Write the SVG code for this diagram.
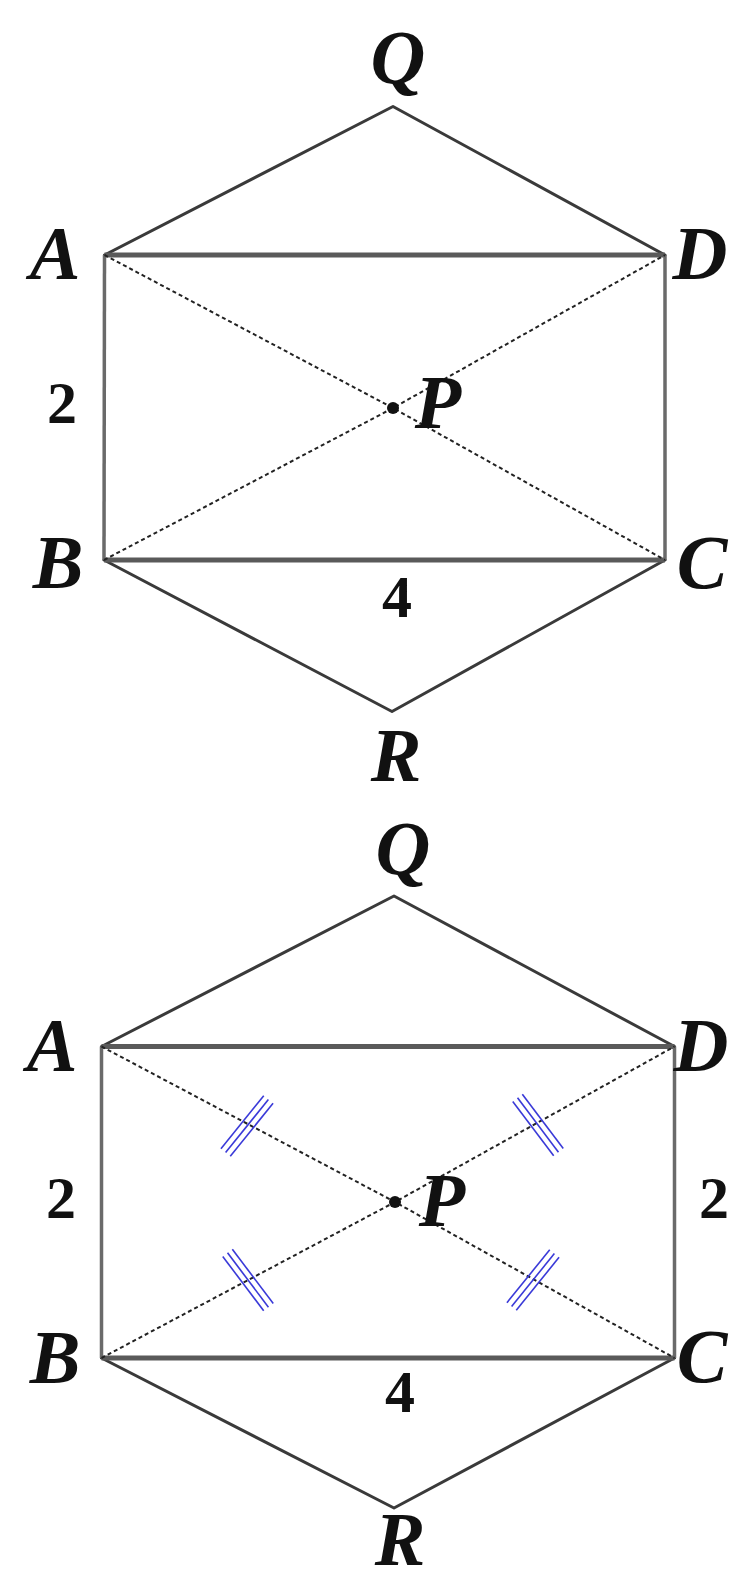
<svg xmlns="http://www.w3.org/2000/svg" xmlns:xlink="http://www.w3.org/1999/xlink" width="729" height="1582" viewBox="0 0 729 1582">
<style>
.bg{fill:#ffffff}
.side{stroke:#3a3a3a;stroke-width:3;fill:none;stroke-linecap:round;stroke-linejoin:round}
.hor{stroke:#5a5a5a;stroke-width:5;fill:none}
.ver{stroke:#6a6a6a;stroke-width:3.5;fill:none}
.diag{stroke:#222;stroke-width:2;fill:none;stroke-dasharray:4 3}
.tk{stroke:#3a3ad8;stroke-width:1.6}
.lbl{font-family:"Liberation Serif","Times New Roman",serif;font-weight:bold;font-style:italic;font-size:76px;fill:#111;text-anchor:middle}
.num{font-family:"Liberation Serif","Times New Roman",serif;font-weight:bold;font-size:60px;fill:#111;text-anchor:middle}
</style>
<defs>
<g id="tick">
<line class="tk" x1="-6" y1="-34" x2="-6" y2="34"/>
<line class="tk" x1="0" y1="-34" x2="0" y2="34"/>
<line class="tk" x1="6" y1="-34" x2="6" y2="34"/>
</g>
</defs>
<rect class="bg" x="0" y="0" width="729" height="1582"/>

<g id="connectors">
<!-- top figure -->
<polyline class="side" points="104.5,255 393,106.5 665,255"/>
<polyline class="side" points="104,560 392,711.5 665,560"/>
<line class="hor" x1="104.5" y1="255" x2="665" y2="255"/>
<line class="hor" x1="104" y1="560" x2="665" y2="560"/>
<line class="ver" x1="104.5" y1="255" x2="104" y2="560"/>
<line class="ver" x1="665" y1="255" x2="665" y2="560"/>
<polyline class="diag" points="104.5,255 393,408 665,560"/>
<polyline class="diag" points="104,560 393,408 665,255"/>
<!-- bottom figure -->
<polyline class="side" points="101.5,1046.5 394,896 674.5,1046.5"/>
<polyline class="side" points="101.5,1358 394,1508 674.5,1358"/>
<line class="hor" x1="101.5" y1="1046.5" x2="674.5" y2="1046.5"/>
<line class="hor" x1="101.5" y1="1358" x2="674.5" y2="1358"/>
<line class="ver" x1="101.5" y1="1046.5" x2="101.5" y2="1358"/>
<line class="ver" x1="674.5" y1="1046.5" x2="674.5" y2="1358"/>
<polyline class="diag" points="101.5,1046.5 395,1202 674.5,1358"/>
<polyline class="diag" points="101.5,1358 395,1202 674.5,1046.5"/>
<use xlink:href="#tick" href="#tick" transform="translate(247,1126) rotate(39)"/>
<use xlink:href="#tick" href="#tick" transform="translate(538,1125) rotate(-37)"/>
<use xlink:href="#tick" href="#tick" transform="translate(248,1280) rotate(-37)"/>
<use xlink:href="#tick" href="#tick" transform="translate(533,1280) rotate(39)"/>
</g>

<g id="fig1">
<g id="node-Q1"><text class="lbl" x="398" y="83">Q</text></g>
<g id="node-A1"><text class="lbl" x="55" y="279">A</text></g>
<g id="node-D1"><text class="lbl" x="700" y="279">D</text></g>
<g id="node-P1"><circle cx="393" cy="408" r="6" fill="#111"/><text class="lbl" x="438" y="428">P</text></g>
<g id="node-B1"><text class="lbl" x="58" y="588">B</text></g>
<g id="node-C1"><text class="lbl" x="702" y="588">C</text></g>
<g id="node-R1"><text class="lbl" x="396" y="781">R</text></g>
<g id="label-2a"><text class="num" x="62" y="423">2</text></g>
<g id="label-4a"><text class="num" x="397" y="617">4</text></g>
</g>

<g id="fig2">
<g id="node-Q2"><text class="lbl" x="403" y="874">Q</text></g>
<g id="node-A2"><text class="lbl" x="52" y="1071">A</text></g>
<g id="node-D2"><text class="lbl" x="701" y="1071">D</text></g>
<g id="node-P2"><circle cx="395" cy="1202" r="6" fill="#111"/><text class="lbl" x="442" y="1226">P</text></g>
<g id="node-B2"><text class="lbl" x="55" y="1383">B</text></g>
<g id="node-C2"><text class="lbl" x="702" y="1382">C</text></g>
<g id="node-R2"><text class="lbl" x="400" y="1565">R</text></g>
<g id="label-2b"><text class="num" x="61" y="1218">2</text></g>
<g id="label-2c"><text class="num" x="714" y="1218">2</text></g>
<g id="label-4b"><text class="num" x="400" y="1412">4</text></g>
</g>
</svg>
